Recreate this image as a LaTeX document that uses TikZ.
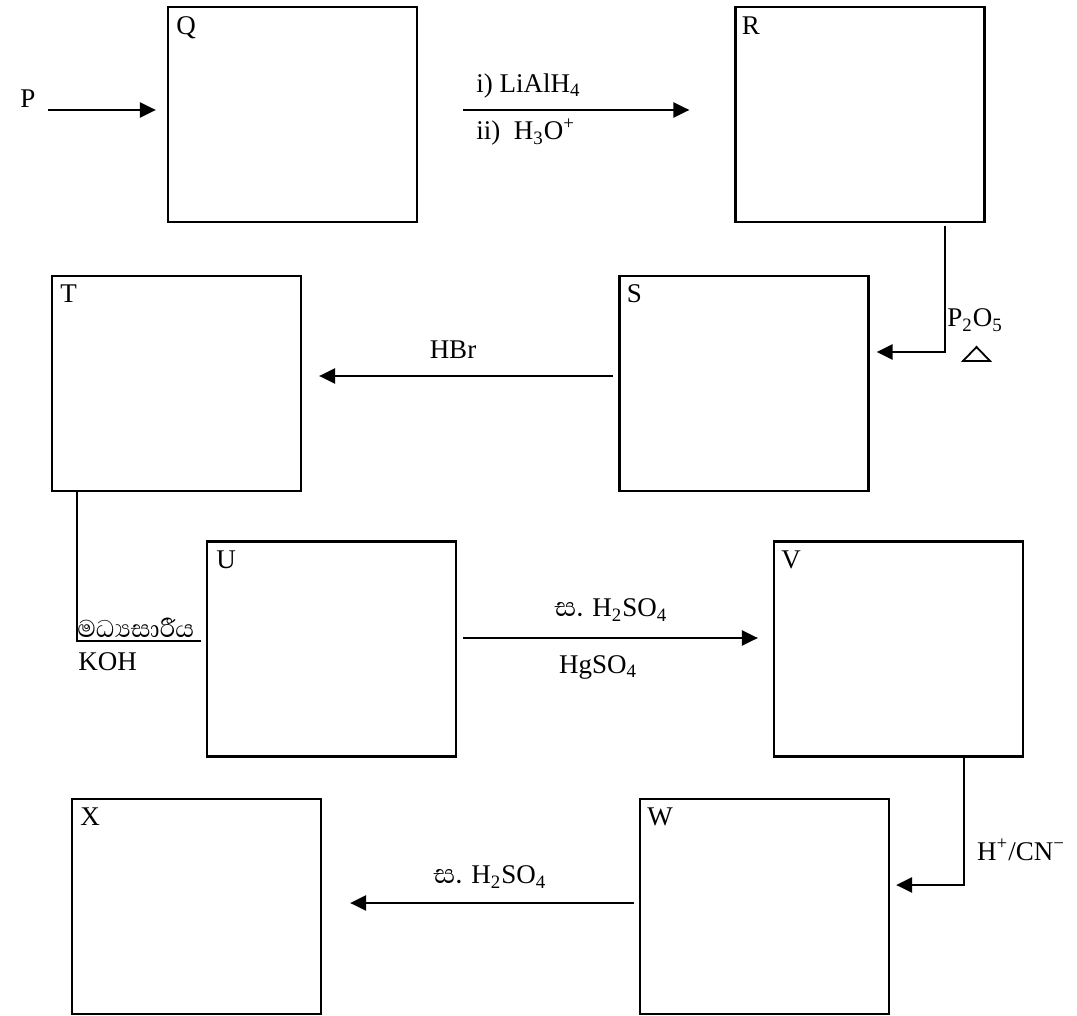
\documentclass[tikz,border=0pt]{standalone}
\usepackage{fontspec}
\setmainfont{Liberation Serif}
\newfontfamily\sinhalafont[Script=Sinhala]{Abhaya Libre}
\usetikzlibrary{arrows.meta,calc}
\begin{document}
\begin{tikzpicture}[x=0.5pt,y=-0.5pt,
  box/.style={draw,line width=1.1pt,minimum width=124.5pt,minimum height=107.5pt,inner sep=0pt},
  tag/.style={anchor=base west,inner sep=0pt},
  lbl/.style={inner sep=0pt},
  arr/.style={line width=1.3pt,-{Triangle[length=8pt,width=7.5pt]}},
  link/.style={line width=0.8pt},
  font=\fontsize{13.5}{16}\selectfont]
\useasboundingbox (0,0) rectangle (1077,1016);
% boxes
\node[box] (Q) at (292.5,114.5) {};
\node[box] (R) at (860,114.5) {};
\node[box] (S) at (744,383.5) {};
\node[box] (T) at (176.5,383.5) {};
\node[box] (U) at (331.5,649) {};
\node[box] (V) at (898.5,649) {};
\node[box] (W) at (764.5,906.5) {};
\node[box] (X) at (196.5,906.5) {};
% box letters
\node[tag] (Qt) at ($(Q.north west)+(9,29)$) {Q};
\node[tag] (Rt) at ($(R.north west)+(7,29)$) {R};
\node[tag] (St) at ($(S.north west)+(8,28)$) {S};
\node[tag] (Tt) at ($(T.north west)+(9,28)$) {T};
\node[tag] (Ut) at ($(U.north west)+(10,28)$) {U};
\node[tag] (Vt) at ($(V.north west)+(8,28)$) {V};
\node[tag] (Wt) at ($(W.north west)+(8,28)$) {W};
\node[tag] (Xt) at ($(X.north west)+(9,28)$) {X};
% P -> Q
\node[tag] (P) at (20,108) {P};
\coordinate (p0) at ($(P.base east)+(12,2)$);
\draw[arr,shorten >=5.5pt] (p0) -- (p0 -| Q.west);
% Q -> R
\draw[arr] ($(Q.east)+(45,-4.5)$) -- ($(R.west)+(-45,-4.5)$);
\node[lbl,anchor=west] (qr1) at (476,86) {i) LiAlH\textsubscript{4}};
\node[lbl,anchor=west] (qr2) at (476,132) {ii)\ \ H\textsubscript{3}O\textsuperscript{+}};
% R -> S
\draw[arr] ($(R.south)+(85,3)$) |- ($(S.east)+(7,-31.5)$);
\node[lbl,anchor=west] (rs) at (947,320) {P\textsubscript{2}O\textsubscript{5}};
\draw[line width=0.9pt,line join=miter] (963,361) -- (990,361) -- (976.5,347) -- cycle;
% S -> T
\draw[arr] ($(S.west)+(-5,-7.5)$) -- ($(T.east)+(17,-7.5)$);
\node[lbl] (st) at (453,350) {HBr};
% T -> U
\coordinate (tu) at ($(T.south west)+(26,149)$);
\draw[link,shorten >=2.5pt] ($(T.south west)+(26,0)$) -- (tu) -- (tu -| U.west);
\node[lbl,anchor=south west] (alc) at ($(tu)+(0,-3)$) {\sinhalafont\fontsize{15.5}{17}\selectfont මධ්^^^^200dයසාරීය};
\node[lbl,anchor=north west] (koh) at ($(tu)+(1,11)$) {KOH};
% U -> V
\draw[arr] ($(U.east)+(6,-11)$) -- ($(V.west)+(-15,-11)$);
\node[lbl] (uv1) at (611,610) {{\sinhalafont\fontsize{17}{18}\selectfont ස.} H\textsubscript{2}SO\textsubscript{4}};
\node[lbl] (uv2) at (598,667) {HgSO\textsubscript{4}};
% V -> W
\draw[arr] ($(V.south west)+(191,0)$) |- ($(W.east)+(6,-21.5)$);
\node[lbl] (vw) at (1021,850) {H\textsuperscript{+}/CN\textsuperscript{\char"2212}};
% W -> X
\draw[arr] ($(W.west)+(-5,-3.5)$) -- ($(X.east)+(28,-3.5)$);
\node[lbl] (wx) at (490,877) {{\sinhalafont\fontsize{17}{18}\selectfont ස.} H\textsubscript{2}SO\textsubscript{4}};
\end{tikzpicture}
\end{document}
